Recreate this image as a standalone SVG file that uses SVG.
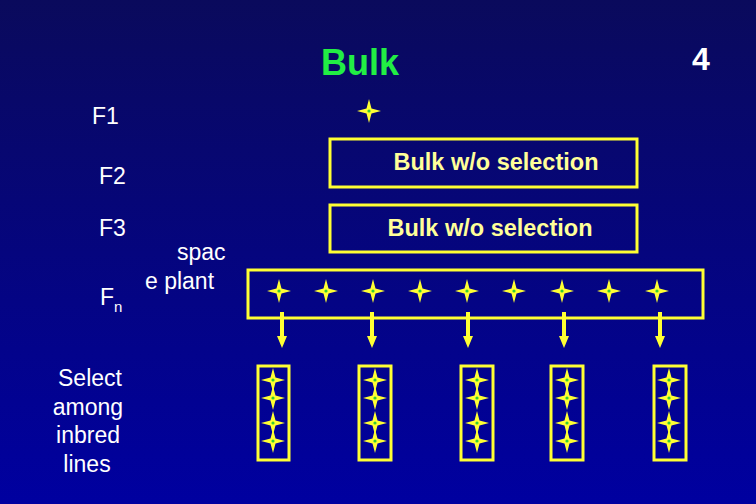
<svg xmlns="http://www.w3.org/2000/svg" width="756" height="504" viewBox="0 0 756 504">
<defs>
<linearGradient id="bg" x1="0" y1="0" x2="0" y2="1"><stop offset="0" stop-color="#0a0a5c"/><stop offset="1" stop-color="#0000a0"/></linearGradient>
<g id="star"><path d="M0,-12 L2.5,-2.5 L12,0 L2.5,2.5 L0,12 L-2.5,2.5 L-12,0 L-2.5,-2.5 Z" fill="#ffff33"/><circle r="1.6" fill="#33cc33"/></g>
<marker id="ah" markerWidth="3" markerHeight="3" refX="1.5" refY="1.25" orient="auto" markerUnits="strokeWidth"><path d="M0,0 L3,1.25 L0,2.5 Z" fill="#ffff33"/></marker>
</defs>
<style>
.lbl{font-family:"Liberation Sans",Arial,sans-serif;font-size:23px;fill:#ffffff}
.box{fill:none;stroke:#ffff33;stroke-width:3}
.bt{font-family:"Liberation Sans",Arial,sans-serif;font-size:23.5px;font-weight:bold;fill:#ffff99;text-anchor:middle}
.arr{stroke:#ffff33;stroke-width:4;marker-end:url(#ah)}
</style>
<rect width="756" height="504" fill="url(#bg)"/>
<text x="360" y="75" font-family="Liberation Sans,Arial,sans-serif" font-weight="bold" font-size="36" fill="#22ee44" text-anchor="middle">Bulk</text>
<text x="701" y="70" font-family="Liberation Sans,Arial,sans-serif" font-weight="bold" font-size="32" fill="#ffffff" text-anchor="middle">4</text>
<g id="labels">
<text class="lbl" x="92" y="124">F1</text>
<text class="lbl" x="99" y="184">F2</text>
<text class="lbl" x="99" y="236">F3</text>
<text class="lbl" x="100" y="305">F<tspan font-size="15" dy="7">n</tspan></text>
<text class="lbl" text-anchor="middle" x="90" y="386">Select</text>
<text class="lbl" text-anchor="middle" x="88" y="415">among</text>
<text class="lbl" text-anchor="middle" x="88" y="443">inbred</text>
<text class="lbl" text-anchor="middle" x="87" y="472">lines</text>
<text class="lbl" x="177" y="260">spac</text>
<text class="lbl" x="145" y="289">e plant</text>
</g>
<g id="f1"><use href="#star" x="369" y="111"/></g>
<g id="f2"><rect class="box" x="330" y="139" width="307" height="48"/><text class="bt" x="496" y="170">Bulk w/o selection</text></g>
<g id="f3"><rect class="box" x="330" y="205" width="307" height="47"/><text class="bt" x="490" y="236">Bulk w/o selection</text></g>
<g id="fn"><rect class="box" x="248" y="270" width="455" height="48"/>
<use href="#star" x="279" y="291"/><use href="#star" x="326" y="291"/><use href="#star" x="373" y="291"/><use href="#star" x="420" y="291"/><use href="#star" x="467" y="291"/><use href="#star" x="514" y="291"/><use href="#star" x="562" y="291"/><use href="#star" x="609" y="291"/><use href="#star" x="657" y="291"/></g>
<g id="connectors">
<line class="arr" x1="282" y1="312" x2="282" y2="342"/>
<line class="arr" x1="372" y1="312" x2="372" y2="342"/>
<line class="arr" x1="468" y1="312" x2="468" y2="342"/>
<line class="arr" x1="564" y1="312" x2="564" y2="342"/>
<line class="arr" x1="660" y1="312" x2="660" y2="342"/>
</g>
<g id="line1"><rect class="box" x="258" y="366" width="31" height="94"/><use href="#star" x="273" y="380"/><use href="#star" x="273" y="398"/><use href="#star" x="273" y="423"/><use href="#star" x="273" y="441"/></g>
<g id="line2"><rect class="box" x="359" y="366" width="32" height="94"/><use href="#star" x="375" y="380"/><use href="#star" x="375" y="398"/><use href="#star" x="375" y="423"/><use href="#star" x="375" y="441"/></g>
<g id="line3"><rect class="box" x="461" y="366" width="32" height="94"/><use href="#star" x="477" y="380"/><use href="#star" x="477" y="398"/><use href="#star" x="477" y="423"/><use href="#star" x="477" y="441"/></g>
<g id="line4"><rect class="box" x="551" y="366" width="32" height="94"/><use href="#star" x="567" y="380"/><use href="#star" x="567" y="398"/><use href="#star" x="567" y="423"/><use href="#star" x="567" y="441"/></g>
<g id="line5"><rect class="box" x="654" y="366" width="32" height="94"/><use href="#star" x="669" y="380"/><use href="#star" x="669" y="398"/><use href="#star" x="669" y="423"/><use href="#star" x="669" y="441"/></g>
</svg>
